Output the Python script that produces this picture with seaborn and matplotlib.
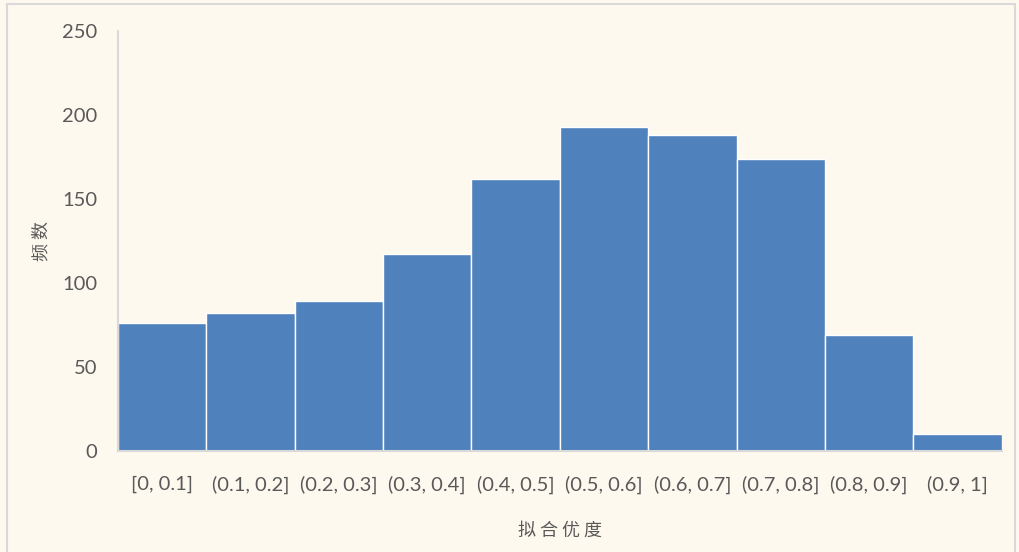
import pandas as pd
import seaborn as sns
import matplotlib.pyplot as plt
from matplotlib.patches import Rectangle

bins = ['[0, 0.1]', '(0.1, 0.2]', '(0.2, 0.3]', '(0.3, 0.4]', '(0.4, 0.5]',
        '(0.5, 0.6]', '(0.6, 0.7]', '(0.7, 0.8]', '(0.8, 0.9]', '(0.9, 1]']
counts = [76, 82, 89, 117, 162, 193, 188, 174, 69, 10]
y_ticks = [0, 50, 100, 150, 200, 250]

df = pd.DataFrame({'bin': bins, 'count': counts})

bg = '#FEF9EE'
txt = '#595959'

sns.set_style('white')
plt.rcParams['font.family'] = ['Lato', 'Noto Sans CJK SC', 'DejaVu Sans']

fig = plt.figure(figsize=(10.2, 5.52), dpi=100, facecolor=bg)
ax = fig.add_axes([0.1157, 0.183, 0.8663, 0.761])
ax.set_facecolor(bg)

sns.barplot(data=df, x='bin', y='count', order=bins, color='#4F81BD',
            width=1.0, edgecolor='white', linewidth=1, saturation=1, ax=ax)

ax.set_ylim(0, 250)
ax.set_xlim(-0.5, len(bins) - 0.5)
ax.set_yticks(y_ticks)
ax.tick_params(axis='both', length=0, labelsize=14.5, labelcolor=txt)
ax.tick_params(axis='x', pad=18)
ax.tick_params(axis='y', pad=15)

for s in ['top', 'right']:
    ax.spines[s].set_visible(False)
for s in ['left', 'bottom']:
    ax.spines[s].set_color('#D9D9D9')
    ax.spines[s].set_linewidth(1.5)

ax.set_xlabel('拟 合 优 度', fontsize=13, color=txt, family=['Noto Sans CJK SC'], labelpad=20)
ax.set_ylabel('频 数', fontsize=13, color=txt, family=['Noto Sans CJK SC'], labelpad=8)

# outer chart border
fig.patches.append(Rectangle((0.007, -0.01), 0.988, 1.003, transform=fig.transFigure,
                             fill=False, edgecolor='#D9D9D9', linewidth=1.5))

fig.savefig('out.png', dpi=100, facecolor=bg)
